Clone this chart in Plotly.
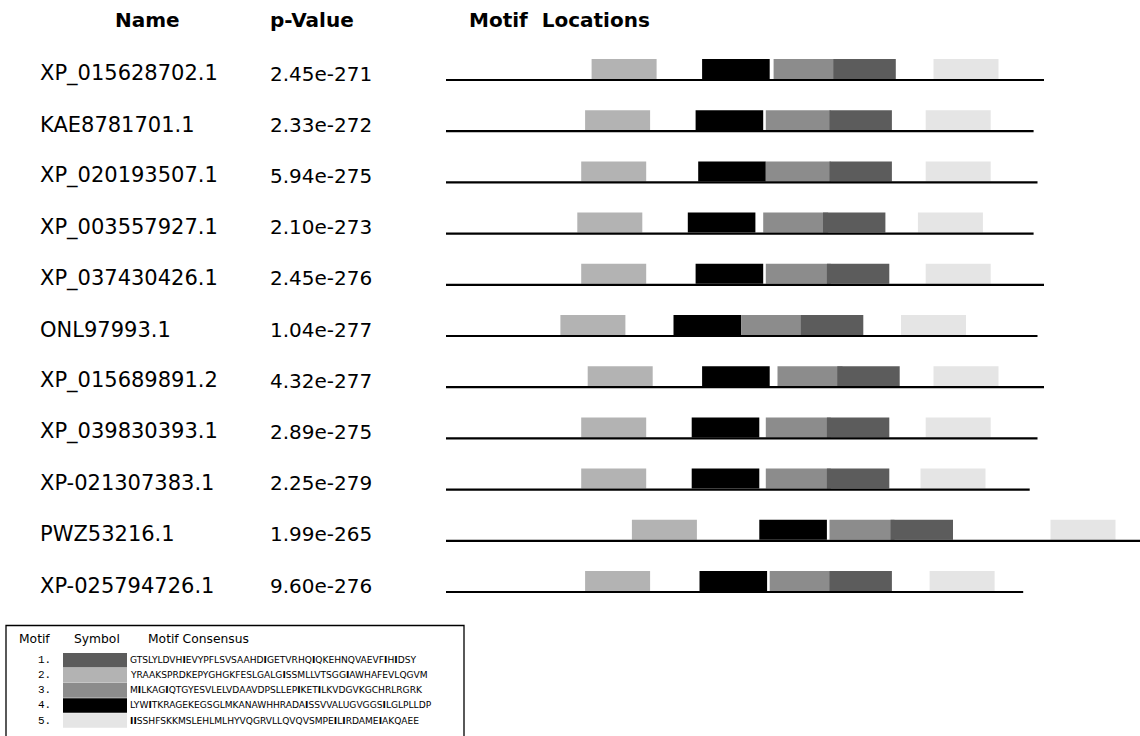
import plotly.graph_objects as go

# Sequence table
names = ["XP_015628702.1", "KAE8781701.1", "XP_020193507.1", "XP_003557927.1",
         "XP_037430426.1", "ONL97993.1", "XP_015689891.2", "XP_039830393.1",
         "XP-021307383.1", "PWZ53216.1", "XP-025794726.1"]
p_values = ["2.45e-271", "2.33e-272", "5.94e-275", "2.10e-273", "2.45e-276",
            "1.04e-277", "4.32e-277", "2.89e-275", "2.25e-279", "1.99e-265",
            "9.60e-276"]
seq_lengths = [460, 452, 455, 452, 460, 455, 460, 455, 449, 545, 444]

# Motif start positions (residues) per sequence
motif1_start = [298, 295, 295, 290, 293, 273, 301, 293, 293, 342, 295]
motif2_start = [112, 107, 104, 101, 104, 88, 109, 104, 104, 143, 107]
motif3_start = [252, 246, 246, 244, 246, 227, 255, 246, 246, 295, 249]
motif4_start = [197, 192, 194, 186, 192, 175, 197, 189, 189, 241, 195]
motif5_start = [375, 369, 369, 363, 369, 350, 375, 369, 365, 465, 372]

motif_ids = ["1.", "2.", "3.", "4.", "5."]
motif_widths = [48, 50, 50, 52, 50]
motif_colors = ["#5c5c5c", "#b3b3b3", "#8c8c8c", "#000000", "#e5e5e5"]
motif_consensus = [
    "GTSLYLDVHIEVYPFLSVSAAHDIGETVRHQIQKEHNQVAEVFIHIDSY",
    "YRAAKSPRDKEPYGHGKFESLGALGISSMLLVTSGGIAWHAFEVLQGVM",
    "MILKAGIQTGYESVLELVDAAVDPSLLEPIKETILKVDGVKGCHRLRGRK",
    "LYWITKRAGEKEGSGLMKANAWHHRADAISSVVALUGVGGSILGLPLLDP",
    "IISSHFSKKMSLEHLMLHYVQGRVLLQVQVSMPEILIRDAMEIAKQAEE",
]
motif_starts = [motif1_start, motif2_start, motif3_start, motif4_start, motif5_start]

W, H = 1140, 736
FONT = "DejaVu Sans"
rows = list(range(len(names)))


def xp(px):
    return px / W


def yp(py):
    return 1 - py / H


fig = go.Figure()

# sequence backbones
line_x, line_y = [], []
for i, L in zip(rows, seq_lengths):
    line_x += [0, L, None]
    line_y += [i, i, None]
fig.add_trace(go.Scatter(x=line_x, y=line_y, mode="lines",
                         line=dict(color="black", width=2.2),
                         hoverinfo="skip", cliponaxis=True))

# motif blocks (motif 3 first so motif 1 sits on top where they meet)
for k in [1, 3, 2, 0, 4]:
    fig.add_trace(go.Bar(
        orientation="h", y=rows, x=[motif_widths[k]] * len(rows),
        base=motif_starts[k], width=0.39, offset=-0.41,
        marker=dict(color=motif_colors[k], line=dict(width=0)),
        name="Motif " + motif_ids[k].rstrip("."),
    ))

annotations = []
# column headers
for text, x, anchor in [("Name", 148, "center"), ("p-Value", 268, "left"),
                        ("Motif  Locations", 467, "left")]:
    annotations.append(dict(text="<b>%s</b>" % text, x=xp(x), y=yp(20.5),
                            xref="paper", yref="paper", xanchor=anchor,
                            yanchor="middle", showarrow=False,
                            font=dict(family=FONT, size=20, color="black")))

# names and p-values
for i, (n, p) in enumerate(zip(names, p_values)):
    annotations.append(dict(text=n, x=xp(38), y=i, xref="paper", yref="y",
                            xanchor="left", yanchor="middle", yshift=6.5,
                            showarrow=False,
                            font=dict(family=FONT, size=21, color="black")))
    annotations.append(dict(text=p, x=xp(268), y=i, xref="paper", yref="y",
                            xanchor="left", yanchor="middle", yshift=6.5,
                            showarrow=False,
                            font=dict(family=FONT, size=20, color="black")))

# key box
shapes = [dict(type="rect", xref="paper", yref="paper",
               x0=xp(6), x1=xp(464), y0=yp(625.5), y1=yp(738),
               line=dict(color="black", width=1.3), fillcolor="rgba(0,0,0,0)")]

for text, x in [("Motif", 17), ("Symbol", 72), ("Motif Consensus", 146)]:
    annotations.append(dict(text=text, x=xp(x), y=yp(638.5), xref="paper",
                            yref="paper", xanchor="left", yanchor="middle",
                            showarrow=False,
                            font=dict(family=FONT, size=12.3, color="black")))

for k in range(5):
    top = 653 + 15.05 * k
    shapes.append(dict(type="rect", xref="paper", yref="paper",
                       x0=xp(63), x1=xp(127), y0=yp(top), y1=yp(top + 14.6),
                       line=dict(width=0), fillcolor=motif_colors[k]))
    annotations.append(dict(text=motif_ids[k], x=xp(53), y=yp(top + 7.3),
                            xref="paper", yref="paper", xanchor="right",
                            yanchor="middle", showarrow=False,
                            font=dict(family="Liberation Mono", size=11,
                                      color="black")))
    annotations.append(dict(text=motif_consensus[k].replace("I", "<b>I</b>"),
                            x=xp(128), y=yp(top + 7.3), xref="paper",
                            yref="paper", xanchor="left", yanchor="middle",
                            showarrow=False,
                            font=dict(family=FONT, size=9.1, color="black")))

fig.update_layout(
    width=W, height=H, margin=dict(l=0, r=0, t=0, b=0),
    paper_bgcolor="white", plot_bgcolor="white",
    barmode="overlay", showlegend=False,
    xaxis=dict(range=[-446 / 1.3, (W - 446) / 1.3], visible=False,
               domain=[0, 1], fixedrange=True),
    yaxis=dict(range=[12.8125, -1.5625], visible=False, domain=[0, 1],
               fixedrange=True),
    annotations=annotations, shapes=shapes,
    font=dict(family=FONT),
)

fig.write_html("out.html")
